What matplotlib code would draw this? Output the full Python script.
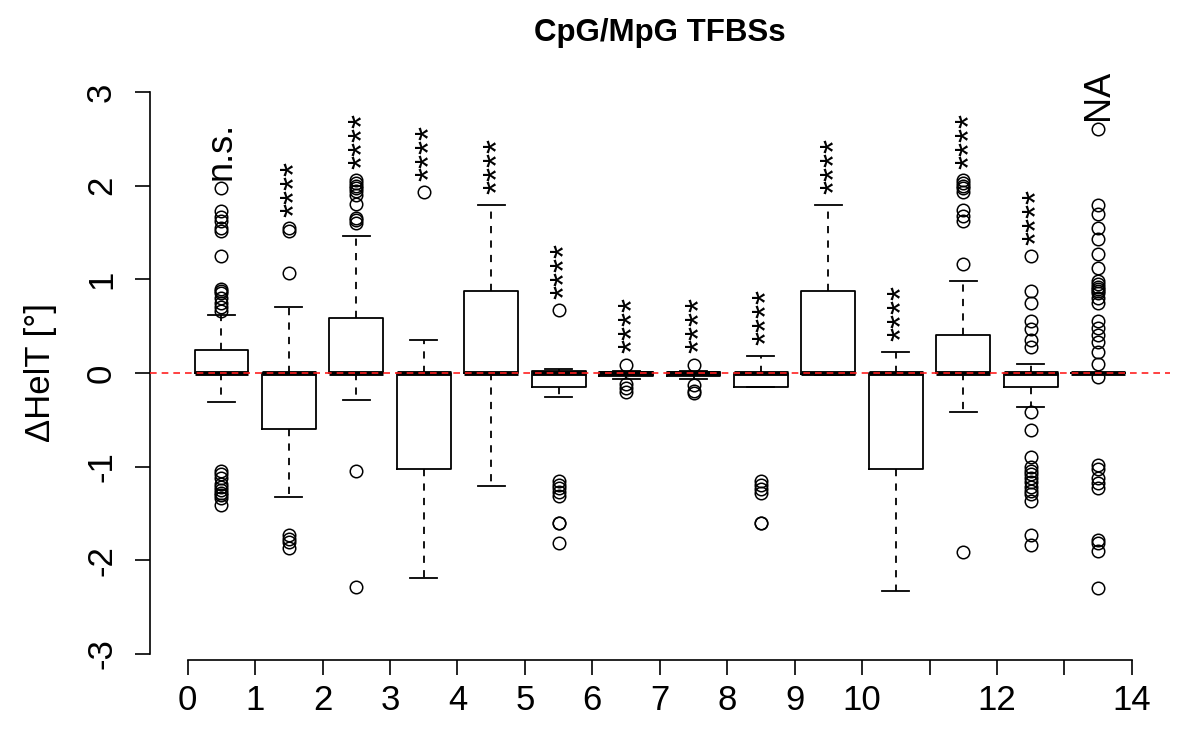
import matplotlib
matplotlib.use("Agg")
import matplotlib.pyplot as plt
import matplotlib.transforms as mtransforms

plt.rcParams['font.family'] = ['Liberation Sans', 'DejaVu Sans']

# ---- data ----
positions = [0.5, 1.5, 2.5, 3.5, 4.5, 5.5, 6.5, 7.5, 8.5, 9.5, 10.5, 11.5, 12.5, 13.5]
q1 = [0.0, -0.60, 0.0, -1.03, 0.0, -0.15, -0.03, -0.03, -0.15, -0.01, -1.03, 0.0, -0.15, 0.0]
med = [0.0] * 14
q3 = [0.25, 0.0, 0.59, 0.0, 0.88, 0.02, 0.01, 0.01, 0.0, 0.88, 0.0, 0.41, 0.0, 0.0]
whislo = [-0.31, -1.32, -0.29, -2.19, -1.21, -0.26, -0.065, -0.065, -0.15, -0.02, -2.33, -0.42, -0.36, 0.0]
whishi = [0.62, 0.70, 1.46, 0.35, 1.79, 0.04, 0.02, 0.02, 0.18, 1.79, 0.22, 0.98, 0.10, 0.0]
fliers = [
    [1.97, 1.73, 1.67, 1.62, 1.55, 1.52, 1.25, 0.90, 0.88, 0.85, 0.80, 0.75, 0.70, 0.66,
     -1.05, -1.08, -1.12, -1.18, -1.22, -1.25, -1.28, -1.30, -1.33, -1.41],
    [1.55, 1.52, 1.07, -1.73, -1.77, -1.80, -1.87],
    [2.06, 2.03, 2.00, 1.97, 1.94, 1.90, 1.80, 1.66, 1.63, 1.60, -1.05, -2.28],
    [1.93],
    [],
    [0.67, -1.15, -1.20, -1.23, -1.27, -1.31, -1.60, -1.60, -1.81],
    [0.09, -0.12, -0.16, -0.20],
    [0.09, -0.13, -0.19, -0.21],
    [-1.15, -1.20, -1.24, -1.28, -1.60, -1.60],
    [],
    [],
    [2.06, 2.03, 2.00, 1.97, 1.93, 1.74, 1.68, 1.62, 1.16, -1.91],
    [1.25, 0.88, 0.75, 0.55, 0.47, 0.35, 0.28, -0.42, -0.61, -0.90, -1.00, -1.05, -1.08,
     -1.12, -1.16, -1.22, -1.26, -1.29, -1.37, -1.73, -1.84],
    [2.61, 1.79, 1.70, 1.55, 1.43, 1.27, 1.12, 0.98, 0.95, 0.92, 0.90, 0.88, 0.85, 0.80,
     0.75, 0.55, 0.48, 0.41, 0.33, 0.22, 0.10, -0.04, -0.98, -1.02, -1.12, -1.17, -1.23,
     -1.78, -1.82, -1.90, -2.29],
]
annotations = ["n.s.", "****", "****", "****", "****", "****", "****", "****",
               "****", "****", "****", "****", "****", "NA"]
xticks = list(range(15))
xticklabels = ["0", "1", "2", "3", "4", "5", "6", "7", "8", "9", "10", "", "12", "", "14"]
yticks = [-3, -2, -1, 0, 1, 2, 3]
title = "CpG/MpG TFBSs"
ylabel = "ΔHelT [°]"

# ---- figure ----
fig = plt.figure(figsize=(12, 7.5), dpi=100)
ax = fig.add_axes([150 / 1200, 1 - 660 / 750, 1019.6 / 1200, (660 - 86) / 750])

stats = []
for i in range(len(positions)):
    stats.append(dict(q1=q1[i], med=med[i], q3=q3[i], whislo=whislo[i],
                      whishi=whishi[i], fliers=fliers[i]))

lw = 1.3
ax.bxp(stats, positions=positions, widths=0.8, showfliers=True, patch_artist=False,
       boxprops=dict(color='black', linewidth=lw),
       whiskerprops=dict(color='black', linewidth=lw, linestyle=(0, (4, 4))),
       capprops=dict(color='black', linewidth=lw),
       medianprops=dict(color='black', linewidth=3.5, solid_capstyle='butt'),
       flierprops=dict(marker='o', markerfacecolor='none', markeredgecolor='black',
                       markersize=9, markeredgewidth=1.1, linestyle='none'),
       capwidths=0.4, manage_ticks=False)

ax.axhline(0, color='#ff2020', linestyle=(0, (4, 3)), linewidth=1.2, zorder=10)

for i, x in enumerate(positions):
    top = max([whishi[i]] + list(fliers[i]))
    label = annotations[i]
    dx = 6.0 if label.startswith('*') else 0.0
    dy = 0.12 if label.startswith('*') else 0.09
    trans = ax.transData + mtransforms.ScaledTranslation(dx / 72, 0, fig.dpi_scale_trans)
    ax.text(x, top + dy, label, rotation=90, ha='center', va='bottom',
            fontsize=26, color='black', transform=trans)

ax.set_xlim(-0.56, 14.56)
ax.set_ylim(-3.064, 3.064)

for s in ['top', 'right']:
    ax.spines[s].set_visible(False)
ax.spines['left'].set_bounds(-3, 3)
ax.spines['bottom'].set_bounds(0, 14)
ax.spines['left'].set_linewidth(1.2)
ax.spines['bottom'].set_linewidth(1.2)

ax.set_xticks(xticks)
ax.set_xticklabels(xticklabels)
ax.set_yticks(yticks)
ax.set_yticklabels([str(v) for v in yticks])
ax.tick_params(axis='both', direction='out', length=11, width=1.2, labelsize=25)
ax.tick_params(axis='x', pad=6)
ax.tick_params(axis='y', pad=12, labelrotation=90)
for lab in ax.get_yticklabels():
    lab.set_va('center')

ax.set_ylabel(ylabel, fontsize=25, labelpad=20)
fig.text(660 / 1200, 1 - 33 / 750, title, ha='center', va='center',
         fontsize=22.5, fontweight='bold')

fig.savefig("out.png", dpi=100)
